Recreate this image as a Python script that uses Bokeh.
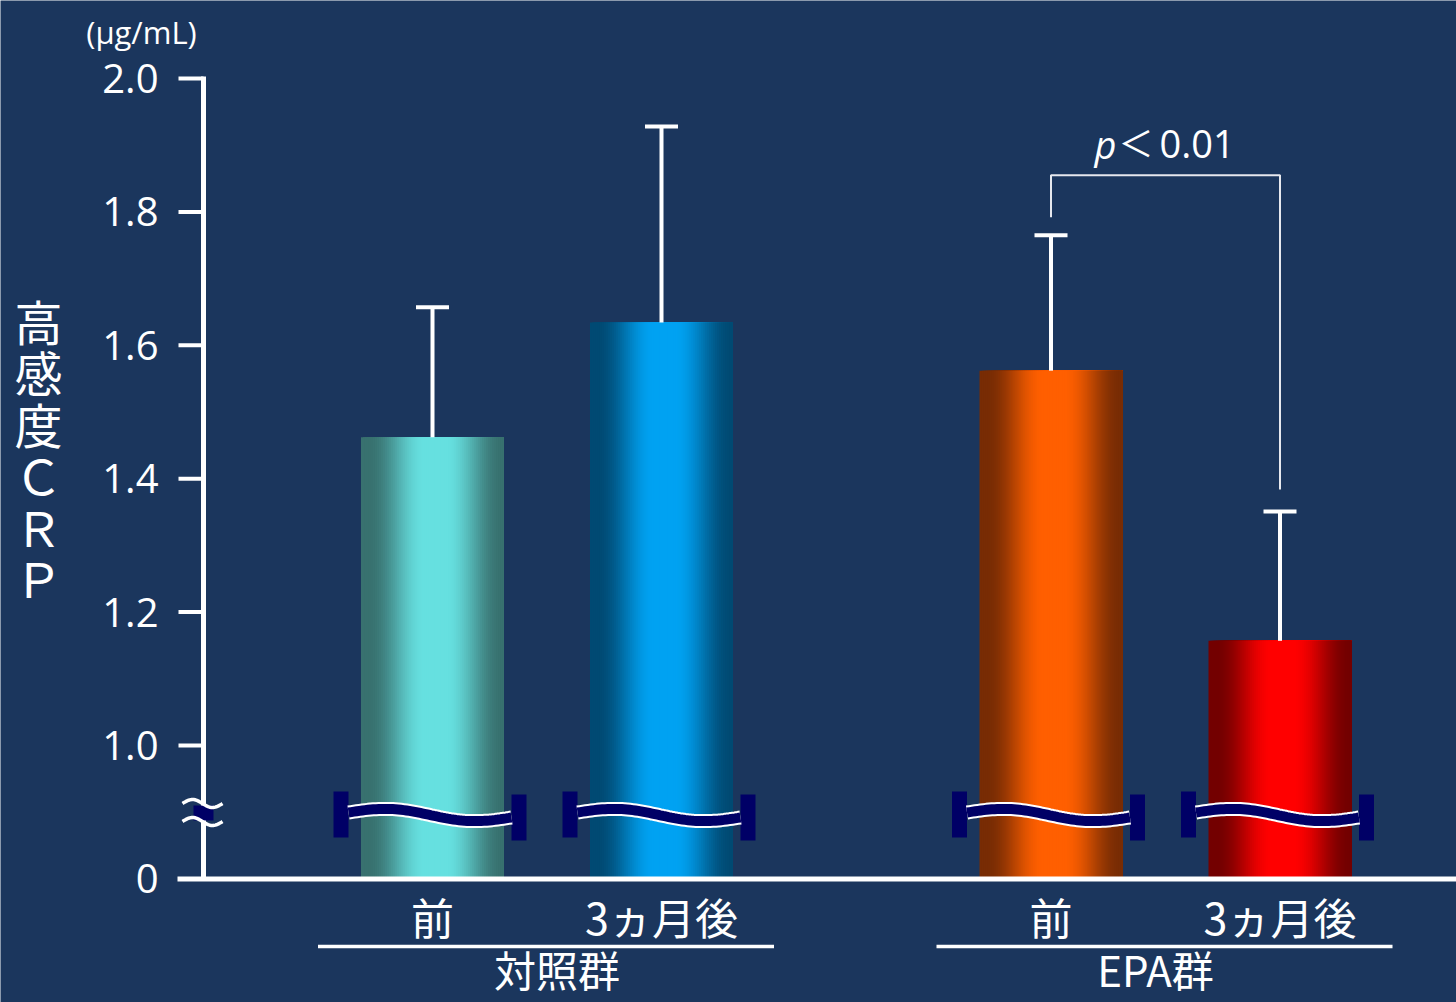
import numpy as np
from bokeh.plotting import figure
from bokeh.models import Range1d, ColumnDataSource
from bokeh.core.properties import value
from bokeh.embed import file_html
from bokeh.resources import INLINE

# ---------------- data ----------------
groups = ["対照群", "EPA群"]
timepoints = ["前", "3ヵ月後"]
means = [1.462, 1.634, 1.562, 1.157]      # high-sensitivity CRP (µg/mL)
sds = [0.195, 0.294, 0.203, 0.194]
y_ticks = [0.8, 1.0, 1.2, 1.4, 1.6, 1.8, 2.0]
y_tick_labels = ["0", "1.0", "1.2", "1.4", "1.6", "1.8", "2.0"]
y_label_chars = ["高", "感", "度", "Ｃ", "Ｒ", "Ｐ"]
unit_label = "(μg/mL)"
p_label = ["p", "＜", "0.01"]
edge_colors = ["#38716f", "#004a73", "#782c04", "#730000"]
center_colors = ["#66e0e0", "#00a2f2", "#ff5f00", "#ff0000"]

# ---------------- layout helpers ----------------
W, H = 1456, 1002
BG = "#1b365d"
NAVY = "#000066"
WHITE = "white"
PX_PER_UNIT = 667.0
TOP_VAL, TOP_PX = 2.0, 78.0
BASE = y_ticks[0]


def v(py):
    """pixel row -> value coordinate"""
    return TOP_VAL - (py - TOP_PX) / PX_PER_UNIT


AXIS_X = 203
group_centers = [546.5, 1165.0]
group_label_shift = [10, -10]
offsets = [-114.5, 114.5]
bar_w = 143.0
bar_x = [group_centers[g] + offsets[t] for g in range(len(groups)) for t in range(len(timepoints))]

p = figure(width=W, height=H, output_backend="svg", toolbar_location=None,
           x_range=Range1d(0, W), y_range=Range1d(v(H), v(0)),
           x_axis_type=None, y_axis_type=None, min_border=0)
p.background_fill_color = BG
p.border_fill_color = BG
p.outline_line_color = None


def hex2rgb(h):
    h = h.lstrip("#")
    return np.array([int(h[i:i + 2], 16) for i in (0, 2, 4)], dtype=float)


def rgb2hex(c):
    c = np.clip(np.round(c), 0, 255).astype(int)
    return "#%02x%02x%02x" % tuple(c)


# ---------------- gradient bars ----------------
N = 72
ql, qr, qt, qb, qc = [], [], [], [], []
for i, (xc, m) in enumerate(zip(bar_x, means)):
    e, c = hex2rgb(edge_colors[i]), hex2rgb(center_colors[i])
    left, right = xc - bar_w / 2, xc + bar_w / 2
    for k in range(N):
        u = (k + 0.5) / N
        d = max(0.0, abs(u - 0.52) - 0.07) / 0.40
        f = 0.5 * (1 + np.cos(np.pi * min(d, 1.0)))
        ql.append(left + k * bar_w / N)
        qr.append(right)
        qt.append(m)
        qb.append(BASE)
        qc.append(rgb2hex(e + (c - e) * f))
p.quad(left=ql, right=qr, top=qt, bottom=qb, fill_color=qc, line_color=None)

# ---------------- error bars ----------------
tops = [m + s for m, s in zip(means, sds)]
p.segment(x0=bar_x, y0=means, x1=bar_x, y1=tops, line_color=WHITE, line_width=4)
p.segment(x0=[x - 16.5 for x in bar_x], y0=tops, x1=[x + 16.5 for x in bar_x], y1=tops,
          line_color=WHITE, line_width=4)

# ---------------- significance bracket ----------------
gap = 18 / PX_PER_UNIT
br_y = max(tops[2], tops[3]) + 0.09
p.line(x=[bar_x[2], bar_x[2], bar_x[3], bar_x[3]],
       y=[tops[2] + gap, br_y, br_y, tops[3] + 22 / PX_PER_UNIT],
       line_color="#e6e8ee", line_width=2)
gc = group_centers[1]
p.text(x=[gc - 71], y=[v(143)], text=[p_label[0]], text_color=WHITE,
       text_font=value("Open Sans"), text_font_style="italic", text_font_size=value("38px"),
       text_align="left", text_baseline="middle")
p.text(x=[gc - 47], y=[v(141)], text=[p_label[1]], text_color=WHITE,
       text_font=value("Noto Sans CJK JP"), text_font_size=value("35px"),
       text_align="left", text_baseline="middle")
p.text(x=[gc - 6], y=[v(143)], text=[p_label[2]], text_color=WHITE,
       text_font=value("Open Sans"), text_font_size=value("38px"),
       text_align="left", text_baseline="middle")

# ---------------- axes ----------------
p.segment(x0=[AXIS_X], y0=[BASE], x1=[AXIS_X], y1=[y_ticks[-1] + 2 / PX_PER_UNIT],
          line_color=WHITE, line_width=5)
p.segment(x0=[178] * len(y_ticks), y0=y_ticks, x1=[AXIS_X] * len(y_ticks), y1=y_ticks,
          line_color=WHITE, line_width=4)
p.segment(x0=[177], y0=[BASE], x1=[W], y1=[BASE], line_color=WHITE, line_width=5)
p.text(x=[158] * len(y_ticks), y=y_ticks, text=y_tick_labels, text_color=WHITE,
       text_font=value("Open Sans"), text_font_size=value("40px"),
       text_align="right", text_baseline="middle")

# axis break
p.quad(left=[193], right=[213], bottom=[v(820)], top=[v(805)], fill_color=NAVY, line_color=None)
tx = np.linspace(182, 222, 40)
for yc in (803, 821):
    p.line(x=tx, y=[v(yc - 4 * np.sin(2 * np.pi * (x - 182) / 40)) for x in tx],
           line_color=WHITE, line_width=3.5)

# bar breaks
for xc in bar_x:
    p.quad(left=[xc - 99, xc + 79], right=[xc - 84, xc + 94],
           bottom=[v(837), v(840)], top=[v(791), v(794)], fill_color=NAVY, line_color=None)
    t = np.linspace(0, 1, 60)
    wx = (xc - 84) + t * 163
    wy = [v(812 + 5 * tt - 4.8 * np.sin(2 * np.pi * tt)) for tt in t]
    p.line(x=wx, y=wy, line_color=WHITE, line_width=14, line_cap="butt")
    p.line(x=wx, y=wy, line_color=NAVY, line_width=10, line_cap="butt")

# ---------------- category labels ----------------
p.text(x=bar_x, y=[v(915)] * len(bar_x), text=timepoints * len(groups), text_color=WHITE,
       text_font=value("Noto Sans CJK JP"), text_font_size=value("43px"),
       text_align="center", text_baseline="middle")
p.segment(x0=[g - 229 for g in group_centers], y0=[v(946)] * 2,
          x1=[g + 227 for g in group_centers], y1=[v(946)] * 2,
          line_color=WHITE, line_width=3.5)
p.text(x=[g + s for g, s in zip(group_centers, group_label_shift)], y=[v(968)] * 2,
       text=groups, text_color=WHITE,
       text_font=value("Noto Sans CJK JP"), text_font_size=value("42px"),
       text_align="center", text_baseline="middle")

# ---------------- axis title & unit ----------------
p.text(x=[38] * len(y_label_chars), y=[v(319 + 51.5 * i) for i in range(len(y_label_chars))],
       text=y_label_chars, text_color=WHITE, text_font=value("Noto Sans CJK JP"),
       text_font_size=value("48px"), text_align="center", text_baseline="middle")
p.text(x=[141], y=[v(31)], text=[unit_label], text_color=WHITE,
       text_font=value("Open Sans"), text_font_size=value("31px"),
       text_align="center", text_baseline="middle")

open("out.html", "w").write(file_html(p, INLINE))
